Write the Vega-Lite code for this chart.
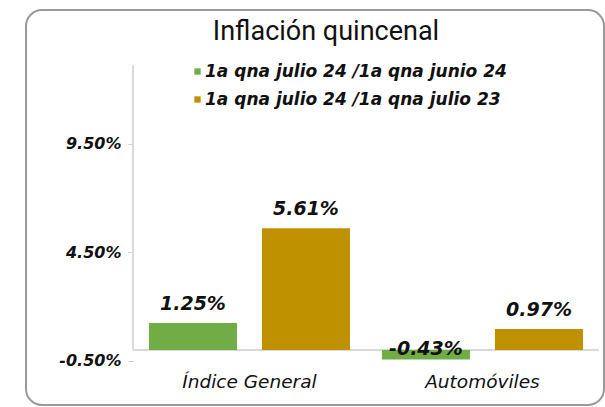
{
  "$schema": "https://vega.github.io/schema/vega-lite/v6.json",
  "width": 578,
  "height": 395,
  "autosize": {"type": "none"},
  "padding": {"left": 26, "top": 10, "right": 1, "bottom": 2},
  "background": "white",
  "config": {
    "view": {"stroke": "#9a9a9a", "strokeWidth": 2, "cornerRadius": 16},
    "font": "Open Sans"
  },
  "title": {
    "text": "Inflación quincenal",
    "font": "Roboto",
    "fontSize": 27,
    "fontWeight": "normal",
    "color": "#111111",
    "anchor": "middle",
    "baseline": "alphabetic",
    "offset": -57,
    "dx": 11
  },
  "data": {
    "values": [
      {"cat": "Índice General", "serie": "1a qna julio 24 /1a qna junio 24", "value": 1.25},
      {"cat": "Índice General", "serie": "1a qna julio 24 /1a qna julio 23", "value": 5.61},
      {"cat": "Automóviles", "serie": "1a qna julio 24 /1a qna junio 24", "value": -0.43},
      {"cat": "Automóviles", "serie": "1a qna julio 24 /1a qna julio 23", "value": 0.97}
    ]
  },
  "layer": [
    {
      "mark": {"type": "rule", "color": "#d9d9d9", "strokeWidth": 1.5},
      "encoding": {
        "x": {"datum": "Índice General", "type": "nominal", "bandPosition": 0},
        "x2": {"datum": "Automóviles", "bandPosition": 1},
        "y": {"datum": 0, "type": "quantitative"}
      }
    },
    {
      "mark": {"type": "rule", "color": "#d9d9d9", "strokeWidth": 1.5},
      "encoding": {
        "x": {"datum": "Índice General", "type": "nominal", "bandPosition": 0},
        "y": {"datum": 0, "type": "quantitative"},
        "y2": {"datum": 13.1}
      }
    },
    {
      "mark": {"type": "bar"},
      "encoding": {
        "x": {
          "field": "cat",
          "type": "nominal",
          "sort": ["Índice General", "Automóviles"],
          "scale": {"domain": ["Índice General", "Automóviles"], "paddingInner": 0, "paddingOuter": 0.2403, "align": 0.955},
          "axis": {
            "orient": "bottom",
            "offset": -25,
            "bandPosition": 0.5,
            "domain": false,
            "ticks": false,
            "labelPadding": 1,
            "labelAngle": 0,
            "labelAlign": "center",
            "labelFont": "DejaVu Sans",
            "labelFontSize": 18.5,
            "labelFontStyle": "italic",
            "labelFontWeight": "normal",
            "labelColor": "#111111",
            "title": null
          }
        },
        "xOffset": {
          "field": "serie",
          "type": "nominal",
          "scale": {"domain": ["1a qna julio 24 /1a qna junio 24", "1a qna julio 24 /1a qna julio 23"], "paddingInner": 0.221, "paddingOuter": 0.1415}
        },
        "y": {
          "field": "value",
          "type": "quantitative",
          "scale": {"domain": [-2.53, 15.67], "nice": false, "zero": false},
          "axis": {
            "values": [-0.5, 4.5, 9.5],
            "labelExpr": "replace(format(datum.value, '.2f'), '\u2212', '-') + '%'",
            "offset": -107,
            "domain": false,
            "grid": false,
            "ticks": true,
            "tickSize": 5,
            "tickColor": "#d0d0d0",
            "labelFont": "DejaVu Sans",
            "labelFontSize": 16,
            "labelFontStyle": "italic",
            "labelFontWeight": "bold",
            "labelColor": "#111111",
            "labelPadding": 7,
            "title": null
          }
        },
        "color": {
          "field": "serie",
          "type": "nominal",
          "scale": {
            "domain": ["1a qna julio 24 /1a qna junio 24", "1a qna julio 24 /1a qna julio 23"],
            "range": ["#70AD47", "#BF9000"]
          },
          "legend": {
            "orient": "none",
            "legendX": 163,
            "legendY": 53,
            "title": null,
            "symbolType": "square",
            "symbolSize": 40,
            "symbolStrokeWidth": 0,
            "labelFont": "DejaVu Sans",
            "labelFontSize": 17,
            "labelFontStyle": "italic",
            "labelFontWeight": "bold",
            "labelColor": "#111111",
            "labelOffset": -1,
            "labelLimit": 0,
            "rowPadding": 10
          }
        }
      }
    },
    {
      "mark": {
        "type": "text",
        "font": "DejaVu Sans",
        "fontSize": 19,
        "fontStyle": "italic",
        "fontWeight": "bold",
        "color": "#111111",
        "baseline": "alphabetic",
        "dy": {"expr": "datum.value < 0 ? -4 : -13"},
        "text": {"expr": "replace(format(datum.value, '.2f'), '\u2212', '-') + '%'"}
      },
      "encoding": {
        "x": {"field": "cat", "type": "nominal"},
        "xOffset": {"field": "serie", "type": "nominal"},
        "y": {"field": "value", "type": "quantitative"}
      }
    }
  ]
}
